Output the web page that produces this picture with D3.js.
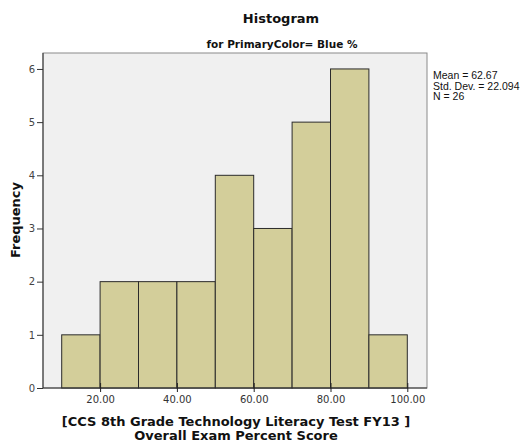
<!DOCTYPE html>
<html>
<head>
<meta charset="utf-8">
<script src="https://cdn.jsdelivr.net/npm/d3@7"></script>
<style>
  body { margin: 0; background: #fff; }
  svg { display: block; font-family: "DejaVu Sans", Verdana, sans-serif; }
</style>
</head>
<body>
<div id="chart"></div>
<script>
  // bin edges and counts
  const binStarts = [10, 20, 30, 40, 50, 60, 70, 80, 90];
  const binWidth = 10;
  const counts = [1, 2, 2, 2, 4, 3, 5, 6, 1];
  const xTicks = [20, 40, 60, 80, 100];
  const yTicks = [0, 1, 2, 3, 4, 5, 6];
  const statLines = ['Mean = 62.67', 'Std. Dev. = 22.094', 'N = 26'];

  const W = 525, H = 445;
  const plot = { left: 43, right: 427, top: 53, bottom: 388 };

  const svg = d3.select('#chart').append('svg')
    .attr('width', W)
    .attr('height', H);

  const x = d3.scaleLinear().domain([5, 105]).range([42.5, 426.5]);
  const y = d3.scaleLinear().domain([0, 6.3]).range([plot.bottom, plot.top]);

  // plot background
  svg.append('rect')
    .attr('x', plot.left)
    .attr('y', plot.top)
    .attr('width', plot.right - plot.left)
    .attr('height', plot.bottom - plot.top)
    .attr('fill', '#f0f0f0')
    .attr('stroke', '#8a8a8a')
    .attr('stroke-width', 1);

  const bins = binStarts.map((s, i) => ({ x0: s, x1: s + binWidth, n: counts[i] }));

  svg.append('g').selectAll('rect.bar')
    .data(bins)
    .join('rect')
    .attr('class', 'bar')
    .attr('x', d => x(d.x0))
    .attr('y', d => y(d.n))
    .attr('width', d => x(d.x1) - x(d.x0))
    .attr('height', d => y(0) - y(d.n))
    .attr('fill', '#d3ce9a')
    .attr('stroke', '#2b2b2b')
    .attr('stroke-width', 1);

  // axes
  const xAxis = d3.axisBottom(x)
    .tickValues(xTicks)
    .tickFormat(d3.format('.2f'))
    .tickSizeInner(5)
    .tickSizeOuter(0)
    .tickPadding(3);

  const gx = svg.append('g')
    .attr('transform', `translate(0,${plot.bottom})`)
    .call(xAxis);
  gx.select('.domain').attr('stroke', '#333').attr('d', `M${plot.left},0H${plot.right}`);
  gx.selectAll('.tick line').attr('stroke', '#222').attr('y1', -5).attr('y2', 4);
  gx.selectAll('.tick text')
    .attr('font-size', 10)
    .attr('fill', '#333')
    .attr('font-family', '"DejaVu Sans", Verdana, sans-serif');

  const yAxis = d3.axisLeft(y)
    .tickValues(yTicks)
    .tickFormat(d3.format('d'))
    .tickSizeInner(6)
    .tickSizeOuter(0)
    .tickPadding(2);

  const gy = svg.append('g')
    .attr('transform', `translate(${plot.left},0)`)
    .call(yAxis);
  gy.select('.domain').attr('stroke', '#333').attr('d', `M0,${plot.bottom}V${plot.top}`);
  gy.selectAll('.tick line').attr('stroke', '#333');
  gy.selectAll('.tick text')
    .attr('font-size', 10)
    .attr('fill', '#444')
    .attr('font-family', '"DejaVu Sans", Verdana, sans-serif');

  // titles
  svg.append('text')
    .attr('x', 281)
    .attr('y', 23)
    .attr('text-anchor', 'middle')
    .attr('font-size', 13)
    .attr('font-weight', 'bold')
    .attr('fill', '#111')
    .text('Histogram');

  svg.append('text')
    .attr('x', 282)
    .attr('y', 48)
    .attr('text-anchor', 'middle')
    .attr('font-size', 10.5)
    .attr('font-weight', 'bold')
    .attr('fill', '#111')
    .text('for PrimaryColor= Blue %');

  svg.append('text')
    .attr('transform', 'translate(20,220) rotate(-90)')
    .attr('text-anchor', 'middle')
    .attr('font-size', 13)
    .attr('font-weight', 'bold')
    .attr('fill', '#111')
    .text('Frequency');

  const xTitle = svg.append('text')
    .attr('text-anchor', 'middle')
    .attr('font-size', 13)
    .attr('font-weight', 'bold')
    .attr('fill', '#111');
  xTitle.append('tspan')
    .attr('x', 236).attr('y', 426)
    .text('[CCS 8th Grade Technology Literacy Test FY13 ]');
  xTitle.append('tspan')
    .attr('x', 236).attr('y', 440)
    .text('Overall Exam Percent Score');

  svg.append('g').selectAll('text')
    .data(statLines)
    .join('text')
    .attr('x', 433)
    .attr('y', (d, i) => 79 + i * 10.5)
    .attr('font-size', 10.5)
    .attr('font-family', '"Liberation Sans", Arial, sans-serif')
    .attr('fill', '#111')
    .text(d => d);
</script>
</body>
</html>
